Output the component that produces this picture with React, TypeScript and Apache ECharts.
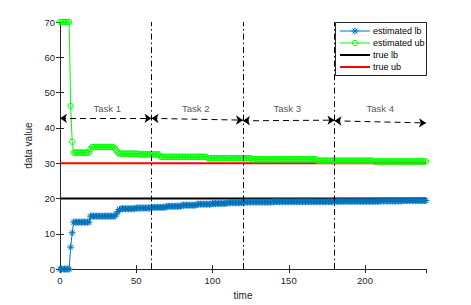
import { useEffect, useRef } from "react";
import * as echarts from "echarts";

// ---- data ----
const timeMin = 0;
const timeMax = 240;
const valueMin = 0;
const valueMax = 70;

// step segments: [start time, value] – value held until the next start time
const lbSteps: [number, number][] = [
  [0, 0], [7, 6.2], [8, 10.3], [9, 13.3], [20, 15.0], [37, 15.6], [38, 16.3], [39, 16.9],
  [40, 17.1], [50, 17.3], [60, 17.5], [70, 17.8], [80, 18.1], [90, 18.4], [100, 18.6],
  [110, 18.8], [120, 19.0], [140, 19.1], [180, 19.2], [210, 19.3], [225, 19.4],
];
const ubSteps: [number, number][] = [
  [0, 70], [7, 46.2], [8, 36.1], [9, 33.0], [20, 34.0], [21, 34.6], [36, 34.2], [37, 33.6],
  [38, 33.0], [39, 32.7], [52, 32.5], [66, 31.8], [97, 31.4], [126, 31.1], [169, 30.7], [206, 30.5],
];
const trueLb = 20;
const trueUb = 30;

const taskBounds = [60, 120, 180];
const taskNames = ["Task 1", "Task 2", "Task 3", "Task 4"];
const taskLabelX = [31, 89, 149, 210];
const taskLabelY = 45.6;
// [x0, y0, x1, y1]
const taskArrows: [number, number, number, number][] = [
  [0, 42.7, 60, 42.7],
  [60, 42.7, 120, 42.2],
  [120, 42.0, 180, 42.2],
  [180, 42.0, 240, 41.4],
];

const legendNames = ["estimated lb", "estimated ub", "true lb", "true ub"];

const lbColor = "#0072BD";
const ubColor = "#00FF00";
const trueLbColor = "#000000";
const trueUbColor = "#FF0000";

function expandSteps(steps: [number, number][]): [number, number][] {
  const out: [number, number][] = [];
  let k = 0;
  for (let t = timeMin; t <= timeMax; t++) {
    while (k + 1 < steps.length && steps[k + 1][0] <= t) k++;
    out.push([t, steps[k][1]]);
  }
  return out;
}

const axisColor = "#262626";
const asterisk =
  "path://M0,-5L0,5M-5,0L5,0M-3.54,-3.54L3.54,3.54M-3.54,3.54L3.54,-3.54";

function buildLegend(font: string) {
  const x0 = 335;
  const y0 = 22;
  const w = 91;
  const h = 53;
  const rowY = [31, 43, 55, 67];
  const lx0 = 340;
  const lx1 = 370;
  const mx = 355;
  const colors = [lbColor, ubColor, trueLbColor, trueUbColor];
  const widths = [1, 1, 2, 2];
  const children: any[] = [
    {
      type: "rect",
      shape: { x: x0 + 0.5, y: y0 + 0.5, width: w, height: h },
      style: { fill: "#fff", stroke: axisColor, lineWidth: 1 },
    },
  ];
  legendNames.forEach((name, i) => {
    const y = rowY[i];
    children.push({
      type: "line",
      shape: { x1: lx0, y1: y, x2: lx1, y2: y },
      style: { stroke: colors[i], lineWidth: widths[i] },
    });
    if (i === 0) {
      const r = 3.5;
      const d = 2.5;
      const segs = [
        [mx, y - r, mx, y + r],
        [mx - r, y, mx + r, y],
        [mx - d, y - d, mx + d, y + d],
        [mx - d, y + d, mx + d, y - d],
      ];
      segs.forEach((s) =>
        children.push({
          type: "line",
          shape: { x1: s[0], y1: s[1], x2: s[2], y2: s[3] },
          style: { stroke: colors[i], lineWidth: 1 },
        })
      );
    } else if (i === 1) {
      children.push({
        type: "circle",
        shape: { cx: mx, cy: y, r: 2.7 },
        style: { fill: "none", stroke: colors[i], lineWidth: 1 },
      });
    }
    children.push({
      type: "text",
      x: lx1 + 3,
      y,
      style: {
        text: name,
        fill: "#000",
        font: `9px ${font}`,
        verticalAlign: "middle",
        align: "left",
      },
    });
  });
  return [{ type: "group", z: 100, children }];
}

export default function App() {
  const ref = useRef<HTMLDivElement>(null);
  useEffect(() => {
    document.body.style.margin = "0";
    if (!ref.current) return;
    const chart = echarts.init(ref.current, null, { renderer: "svg" });
    const font = "'Liberation Sans', Arial, Helvetica, sans-serif";
    const axisCommon = {
      type: "value" as const,
      axisLine: { show: true, lineStyle: { color: axisColor, width: 1 } },
      axisTick: { show: true, inside: true, length: 4, lineStyle: { color: axisColor } },
      splitLine: { show: false },
    };
    chart.setOption({
      animation: false,
      textStyle: { fontFamily: font },
      grid: { left: 60, right: 45, top: 22, bottom: 33, containLabel: false },
      graphic: buildLegend(font),
      xAxis: [
        {
          ...axisCommon,
          min: timeMin,
          max: timeMax,
          interval: 50,
          position: "bottom",
          axisLabel: { fontSize: 9.5, color: axisColor, margin: 6, showMaxLabel: false },
          name: "time",
          nameLocation: "middle",
          nameGap: 20,
          nameTextStyle: { fontSize: 10, color: axisColor },
        },
        {
          ...axisCommon,
          min: timeMin,
          max: timeMax,
          interval: 50,
          position: "top",
          axisLabel: { show: false },
        },
      ],
      yAxis: [
        {
          ...axisCommon,
          min: valueMin,
          max: valueMax,
          interval: 10,
          position: "left",
          axisLabel: { fontSize: 9.5, color: axisColor, margin: 5 },
          name: "data value",
          nameLocation: "middle",
          nameGap: 15,
          nameTextStyle: { fontSize: 10, color: axisColor },
        },
        {
          ...axisCommon,
          min: valueMin,
          max: valueMax,
          interval: 10,
          position: "right",
          axisLabel: { show: false },
        },
      ],
      series: [
        {
          name: "estimated lb",
          type: "line",
          data: expandSteps(lbSteps),
          symbol: asterisk,
          symbolSize: 7,
          symbolKeepAspect: true,
          showSymbol: true,
          showAllSymbol: true,
          lineStyle: { color: lbColor, width: 1 },
          itemStyle: { color: lbColor, borderColor: lbColor, borderWidth: 1 },
          emphasis: { disabled: true },
        },
        {
          name: "estimated ub",
          type: "line",
          data: expandSteps(ubSteps),
          symbol: "circle",
          symbolSize: 5.5,
          showSymbol: true,
          showAllSymbol: true,
          lineStyle: { color: ubColor, width: 1 },
          itemStyle: { color: "rgba(0,0,0,0)", borderColor: ubColor, borderWidth: 1 },
          emphasis: { disabled: true },
        },
        {
          name: "true lb",
          type: "line",
          data: [[timeMin, trueLb], [timeMax, trueLb]],
          symbol: "none",
          lineStyle: { color: trueLbColor, width: 2 },
          emphasis: { disabled: true },
        },
        {
          name: "true ub",
          type: "line",
          data: [[timeMin, trueUb], [timeMax, trueUb]],
          symbol: "none",
          lineStyle: { color: trueUbColor, width: 2 },
          emphasis: { disabled: true },
        },
        {
          name: "tasks",
          type: "scatter",
          symbolSize: 0,
          data: taskNames.map((n, i) => ({ name: n, value: [taskLabelX[i], taskLabelY] })),
          label: {
            show: true,
            position: "inside",
            formatter: (p: any) => p.name,
            fontSize: 9.5,
            color: axisColor,
            fontFamily: font,
          },
          silent: true,
          markLine: {
            silent: true,
            animation: false,
            symbol: ["none", "none"],
            label: { show: false },
            lineStyle: { color: "#000", width: 1, type: [6, 3, 1.5, 3] },
            data: taskBounds.map((x) => ({ xAxis: x })),
          },
          z: 5,
        },
        {
          name: "arrows",
          type: "line",
          data: [],
          markLine: {
            silent: true,
            animation: false,
            symbol: ["arrow", "arrow"],
            symbolSize: 7,
            label: { show: false },
            lineStyle: { color: "#000", width: 1, type: [6, 4] },
            data: taskArrows.map((a) => [{ coord: [a[0], a[1]] }, { coord: [a[2], a[3]] }]),
          },
          z: 5,
        },
      ],
    });
    return () => chart.dispose();
  }, []);
  return <div ref={ref} style={{ width: 471, height: 305 }} />;
}
